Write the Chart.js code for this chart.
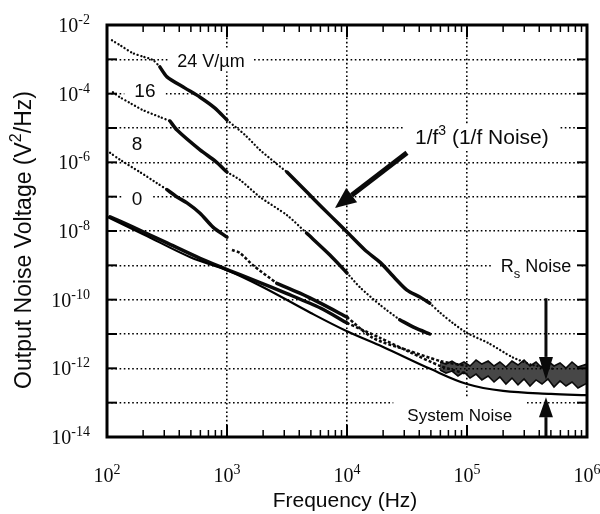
<!DOCTYPE html>
<html>
<head>
<meta charset="utf-8">
<title>Output noise voltage vs frequency</title>
<script src="https://cdn.jsdelivr.net/npm/chart.js@4.4.1/dist/chart.umd.min.js"></script>
<style>
  html, body { margin: 0; padding: 0; background: #fff; }
  canvas { display: block; }
</style>
</head>
<body>
<canvas id="noise-chart" width="600" height="514"></canvas>
<script>
// axis decades (exponents of ten)
const xDecades = [2, 3, 4, 5, 6];
const yDecades = [-14, -13, -12, -11, -10, -9, -8, -7, -6, -5, -4, -3, -2];
const yLabelDecades = [-14, -12, -10, -8, -6, -4, -2];

// system noise (solid curve)
const fSystem = [100, 200, 500, 1e3, 2e3, 5e3, 1e4, 2e4, 5e4, 1e5, 2e5, 5e5, 1e6];
const vSystem = [2.6e-8, 8.1e-9, 1.7e-9, 7.2e-10, 2.3e-10, 4.1e-11, 1.2e-11, 4.2e-12, 9.5e-13, 3.5e-13, 2.2e-13, 1.8e-13, 1.65e-13];

// 24 V/um
const f24a = [110, 128, 165, 200, 242, 276];
const v24a = [3.6e-3, 2.6e-3, 1.5e-3, 1.2e-3, 9.5e-4, 6e-4];
const f24b = [276, 316, 447, 596, 794, 1000];
const v24b = [6e-4, 3.1e-4, 1.45e-4, 7.9e-5, 3.8e-5, 1.7e-5];
const f24c = [1000, 1410, 1880, 2500, 3160];
const v24c = [1.7e-5, 6.3e-6, 2.3e-6, 1e-6, 5.2e-7];
const f24d = [3160, 4050, 5400, 7200, 1e4, 1.41e4, 1.9e4, 2.5e4, 3.16e4, 4.05e4, 4.9e4];
const v24d = [5.2e-7, 2.2e-7, 7.9e-8, 2.9e-8, 9.3e-9, 2.8e-9, 1.2e-9, 4.3e-10, 1.9e-10, 1.2e-10, 7.9e-11];
const f24e = [4.9e4, 6e4, 7.6e4, 1e5, 1.5e5, 2.4e5, 3.5e5, 5.4e5];
const v24e = [7.9e-11, 4.1e-11, 2.1e-11, 1.07e-11, 5.5e-12, 2.1e-12, 1.26e-12, 9.5e-13];

// 16 V/um
const f16a = [112, 128, 155, 200, 276, 335];
const v16a = [1.1e-4, 7.9e-5, 5.4e-5, 3.3e-5, 2.1e-5, 1.6e-5];
const f16b = [335, 383, 596, 794, 1000];
const v16b = [1.6e-5, 8.7e-6, 2.3e-6, 1.1e-6, 5.2e-7];
const f16c = [1000, 1280, 1880, 3160, 4600];
const v16c = [5.2e-7, 3.1e-7, 9.8e-8, 2.9e-8, 8.7e-9];
const f16d = [4600, 7200, 1e4];
const v16d = [8.7e-9, 2e-9, 6e-10];
const f16e = [1e4, 1.28e4, 1.9e4, 2.75e4];
const v16e = [6e-10, 2.3e-10, 6.9e-11, 2.6e-11];
const f16f = [2.75e4, 3.7e4, 4.9e4];
const v16f = [2.6e-11, 1.5e-11, 1e-11];

// 8 V/um
const f8a = [106, 128, 188, 260, 316];
const v8a = [1.9e-6, 1.2e-6, 5.2e-7, 2.5e-7, 1.6e-7];
const f8b = [316, 383, 464, 596, 764, 1000];
const v8b = [1.6e-7, 9.8e-8, 6.6e-8, 3.3e-8, 1.3e-8, 6.6e-9];
const f8c = [1100, 1280, 1650, 2600];
const v8c = [2.8e-9, 2.3e-9, 1e-9, 3e-10];
const f8d = [2600, 4050, 6000, 1e4];
const v8d = [3e-10, 1.55e-10, 7.9e-11, 3.1e-11];
const f8e = [1e4, 1.65e4, 3.16e4, 6e4, 1e5];
const v8e = [3.1e-11, 7.6e-12, 3.4e-12, 1.63e-12, 1.17e-12];

// 0 V/um
const f0a = [106, 165, 316, 596, 1000];
const v0a = [2.6e-8, 1.3e-8, 4.5e-9, 1.6e-9, 7.5e-10];
const f0b = [1000, 1650, 3160, 6000, 1e4];
const v0b = [7.5e-10, 3.8e-10, 1.5e-10, 5.7e-11, 2.1e-11];
const f0c = [1e4, 1.9e4, 3.35e4, 6e4, 1e5];
const v0c = [2.1e-11, 7.6e-12, 2.95e-12, 1.17e-12, 6.8e-13];

// high frequency floor where all fields merge (upper and lower edge of the noisy band)
const fFloor = [5.96e4, 6.68e4, 7.5e4, 8.41e4, 9.44e4, 1.06e5, 1.19e5, 1.33e5, 1.5e5, 1.68e5, 1.88e5, 2.11e5, 2.37e5,
    2.66e5, 2.99e5, 3.35e5, 3.76e5, 4.22e5, 4.73e5, 5.31e5, 5.96e5, 6.68e5, 7.5e5, 8.41e5, 1e6];
const vFloorHi = [1.53e-12, 1.33e-12, 1.63e-12, 1.25e-12, 1.53e-12, 1.17e-12, 1.75e-12, 1.33e-12, 1.63e-12, 1.17e-12,
    1.53e-12, 1.09e-12, 1.63e-12, 1.25e-12, 1.75e-12, 1.17e-12, 1.53e-12, 1.02e-12, 1.63e-12, 1.17e-12, 1.43e-12,
    1.02e-12, 1.53e-12, 1.09e-12, 1.33e-12];
const vFloorLo = [8.9e-13, 7.3e-13, 8.3e-13, 6e-13, 7.8e-13, 5.2e-13, 6.8e-13, 4.6e-13, 6e-13, 4e-13, 5.6e-13, 3.5e-13,
    5.2e-13, 3.3e-13, 4.9e-13, 3.05e-13, 4.6e-13, 3.5e-13, 4.9e-13, 2.85e-13, 4.3e-13, 3.05e-13, 4e-13, 2.67e-13, 3.7e-13];

const sansFont = '"Liberation Sans", Arial, Helvetica, sans-serif';
const serifFont = '"Liberation Serif", "Times New Roman", serif';
const ink = '#0a0a0a';

// annotations, placed in data coordinates
const notes = [
    { f: 736, v: 9.5e-4, box: 8, runs: [{ t: '24 V/µm', s: 18 }] },
    { f: 207, v: 1.3e-4, box: 10, runs: [{ t: '16', s: 19 }] },
    { f: 178, v: 3.6e-6, box: 0, runs: [{ t: '8', s: 19 }] },
    { f: 178, v: 9.1e-8, box: 9, runs: [{ t: '0', s: 19 }] },
    { f: 1.33e5, v: 5.5e-6, box: 10, runs: [{ t: '1/f', s: 21 }, { t: '3', s: 14, rise: 9 }, { t: ' (1/f Noise)', s: 21 }] },
    { f: 3.76e5, v: 1e-9, box: 9, runs: [{ t: 'R', s: 18 }, { t: 's', s: 13, rise: -6 }, { t: ' Noise', s: 18 }] },
    { f: 8.7e4, v: 4.4e-14, box: 14, boxTop: 18, runs: [{ t: 'System Noise', s: 17 }] }
];

const arrows = [
    { from: [3.16e4, 1.9e-6], to: [7.94e3, 4.7e-8], width: 5, head: 21, half: 9 },
    { from: [4.55e5, 1.1e-10], to: [4.55e5, 4.6e-13], width: 3, head: 23, half: 7 },
    { from: [4.55e5, 1e-14], to: [4.55e5, 1.45e-13], width: 3, head: 20, half: 7 }
];

const sparse = { borderWidth: 2.3, borderDash: [0.1, 3.6], borderCapStyle: 'round' };
const medium = { borderWidth: 2.5, borderDash: [3, 2] };
const dense = { borderWidth: 3.5, borderCapStyle: 'round', borderJoinStyle: 'round' };

function trace(freqs, values, style) {
    return Object.assign({
        data: freqs.map((f, i) => ({ x: f, y: values[i] })),
        borderColor: ink,
        pointRadius: 0,
        tension: 0.25,
        fill: false
    }, style);
}

function drawRuns(ctx, runs, cx, cy, boxPad, boxTop) {
    let width = 0;
    const base = runs[0].s;
    runs.forEach(r => {
        ctx.font = r.s + 'px ' + sansFont;
        r.w = ctx.measureText(r.t).width;
        width += r.w;
    });
    let x = cx - width / 2;
    if (boxPad) {
        const top = boxTop || base * 0.62;
        ctx.fillStyle = '#fff';
        ctx.fillRect(x - boxPad, cy - top, width + 2 * boxPad, top + base * 0.62);
    }
    ctx.fillStyle = ink;
    ctx.textAlign = 'left';
    ctx.textBaseline = 'alphabetic';
    runs.forEach(r => {
        ctx.font = r.s + 'px ' + sansFont;
        ctx.fillText(r.t, x, cy + base * 0.36 - (r.rise || 0));
        x += r.w;
    });
}

function drawArrow(ctx, x0, y0, x1, y1, a) {
    const ang = Math.atan2(y1 - y0, x1 - x0);
    const bx = x1 - a.head * Math.cos(ang);
    const by = y1 - a.head * Math.sin(ang);
    ctx.strokeStyle = ink;
    ctx.fillStyle = ink;
    ctx.lineWidth = a.width;
    ctx.beginPath();
    ctx.moveTo(x0, y0);
    ctx.lineTo(bx, by);
    ctx.stroke();
    ctx.beginPath();
    ctx.moveTo(x1, y1);
    ctx.lineTo(bx + a.half * Math.sin(ang), by - a.half * Math.cos(ang));
    ctx.lineTo(bx - a.half * Math.sin(ang), by + a.half * Math.cos(ang));
    ctx.closePath();
    ctx.fill();
}

function line(ctx, x0, y0, x1, y1) {
    ctx.beginPath();
    ctx.moveTo(x0, y0);
    ctx.lineTo(x1, y1);
    ctx.stroke();
}

// labels with white boxes that break the dotted grid, arrows, frame and tick labels
const notesPlugin = {
    id: 'notes',
    beforeDatasetsDraw(chart) {
        const { ctx, scales: { x, y } } = chart;
        ctx.save();
        notes.forEach(n => {
            drawRuns(ctx, n.runs, x.getPixelForValue(n.f), y.getPixelForValue(n.v), n.box, n.boxTop);
        });
        ctx.restore();
    },
    afterDatasetsDraw(chart) {
        const { ctx, chartArea: a, scales: { x, y } } = chart;
        ctx.save();
        arrows.forEach(ar => {
            drawArrow(ctx, x.getPixelForValue(ar.from[0]), y.getPixelForValue(ar.from[1]),
                x.getPixelForValue(ar.to[0]), y.getPixelForValue(ar.to[1]), ar);
        });

        // frame with inward ticks
        ctx.strokeStyle = '#000';
        xDecades.forEach(e => {
            for (let m = 1; m <= 9; m++) {
                const f = m * Math.pow(10, e);
                if (f > x.max) break;
                const px = x.getPixelForValue(f);
                const len = m === 1 ? 12 : 7;
                ctx.lineWidth = m === 1 ? 2 : 1.5;
                line(ctx, px, a.top, px, a.top + len);
                line(ctx, px, a.bottom, px, a.bottom - len);
            }
        });
        ctx.lineWidth = 2;
        yDecades.forEach(e => {
            const py = y.getPixelForValue(Math.pow(10, e));
            line(ctx, a.left, py, a.left + 10, py);
            line(ctx, a.right, py, a.right - 10, py);
        });
        ctx.lineWidth = 3;
        ctx.strokeRect(a.left, a.top, a.right - a.left, a.bottom - a.top);
        ctx.restore();
    },
    afterDraw(chart) {
        const { ctx, chartArea: a, scales: { x, y } } = chart;
        ctx.save();
        ctx.fillStyle = ink;
        ctx.textBaseline = 'alphabetic';
        ctx.textAlign = 'left';

        // tick labels 10^n
        function power(e, cx, cy, alignRight) {
            ctx.font = '20px ' + serifFont;
            const wb = ctx.measureText('10').width;
            ctx.font = '14px ' + serifFont;
            const sup = String(e);
            const ws = ctx.measureText(sup).width;
            const left = alignRight ? cx - wb - ws : cx - (wb + ws) / 2;
            ctx.font = '20px ' + serifFont;
            ctx.fillText('10', left, cy);
            ctx.font = '14px ' + serifFont;
            ctx.fillText(sup, left + wb, cy - 8);
        }
        yLabelDecades.forEach(e => power(e, 90, y.getPixelForValue(Math.pow(10, e)) + 7, true));
        xDecades.forEach(e => power(e, x.getPixelForValue(Math.pow(10, e)), 482, false));

        // axis titles
        drawRuns(ctx, [{ t: 'Frequency (Hz)', s: 21 }], (a.left + a.right) / 2 - 2, 499, 0);
        ctx.translate(23, 240);
        ctx.rotate(-Math.PI / 2);
        drawRuns(ctx, [{ t: 'Output Noise Voltage (V', s: 23 }, { t: '2', s: 16, rise: 10 }, { t: '/Hz)', s: 23 }], 0, 0, 0);
        ctx.restore();
    }
};

function decadeTicks(list) {
    return function (scale) {
        scale.ticks = list.map(e => ({ value: Math.pow(10, e) }));
    };
}

const gridStyle = { color: '#000', lineWidth: 1.6, drawTicks: false };

const config = {
    type: 'line',
    data: {
        datasets: [
            trace(fSystem, vSystem, { borderWidth: 2.2, borderColor: '#000', tension: 0.35 }),
            trace(f24a, v24a, sparse),
            trace(f24b, v24b, dense),
            trace(f24c, v24c, sparse),
            trace(f24d, v24d, dense),
            trace(f24e, v24e, sparse),
            trace(f16a, v16a, sparse),
            trace(f16b, v16b, dense),
            trace(f16c, v16c, sparse),
            trace(f16d, v16d, dense),
            trace(f16e, v16e, sparse),
            trace(f16f, v16f, dense),
            trace(f8a, v8a, sparse),
            trace(f8b, v8b, dense),
            trace(f8c, v8c, medium),
            trace(f8d, v8d, dense),
            trace(f8e, v8e, medium),
            trace(f0a, v0a, dense),
            trace(f0b, v0b, dense),
            trace(f0c, v0c, medium),
            trace(fFloor, vFloorHi, { borderWidth: 1.6, tension: 0 }),
            trace(fFloor, vFloorLo, { borderWidth: 1.6, tension: 0, fill: '-1', backgroundColor: 'rgba(0,0,0,0.72)' })
        ]
    },
    options: {
        responsive: false,
        animation: false,
        layout: { padding: { top: 25, right: 13, left: 0, bottom: 0 } },
        plugins: {
            legend: { display: false },
            tooltip: { enabled: false }
        },
        scales: {
            x: {
                type: 'logarithmic',
                min: 100,
                max: 1e6,
                afterBuildTicks: decadeTicks(xDecades),
                afterFit: s => { s.height = 77; },
                ticks: { display: false },
                grid: gridStyle,
                border: { display: false, dash: [1.6, 2.6] }
            },
            y: {
                type: 'logarithmic',
                min: 1e-14,
                max: 1e-2,
                afterBuildTicks: decadeTicks(yDecades),
                afterFit: s => { s.width = 107; },
                ticks: { display: false },
                grid: gridStyle,
                border: { display: false, dash: [1.6, 2.6] }
            }
        }
    },
    plugins: [notesPlugin]
};

new Chart(document.getElementById('noise-chart'), config);
</script>
</body>
</html>
